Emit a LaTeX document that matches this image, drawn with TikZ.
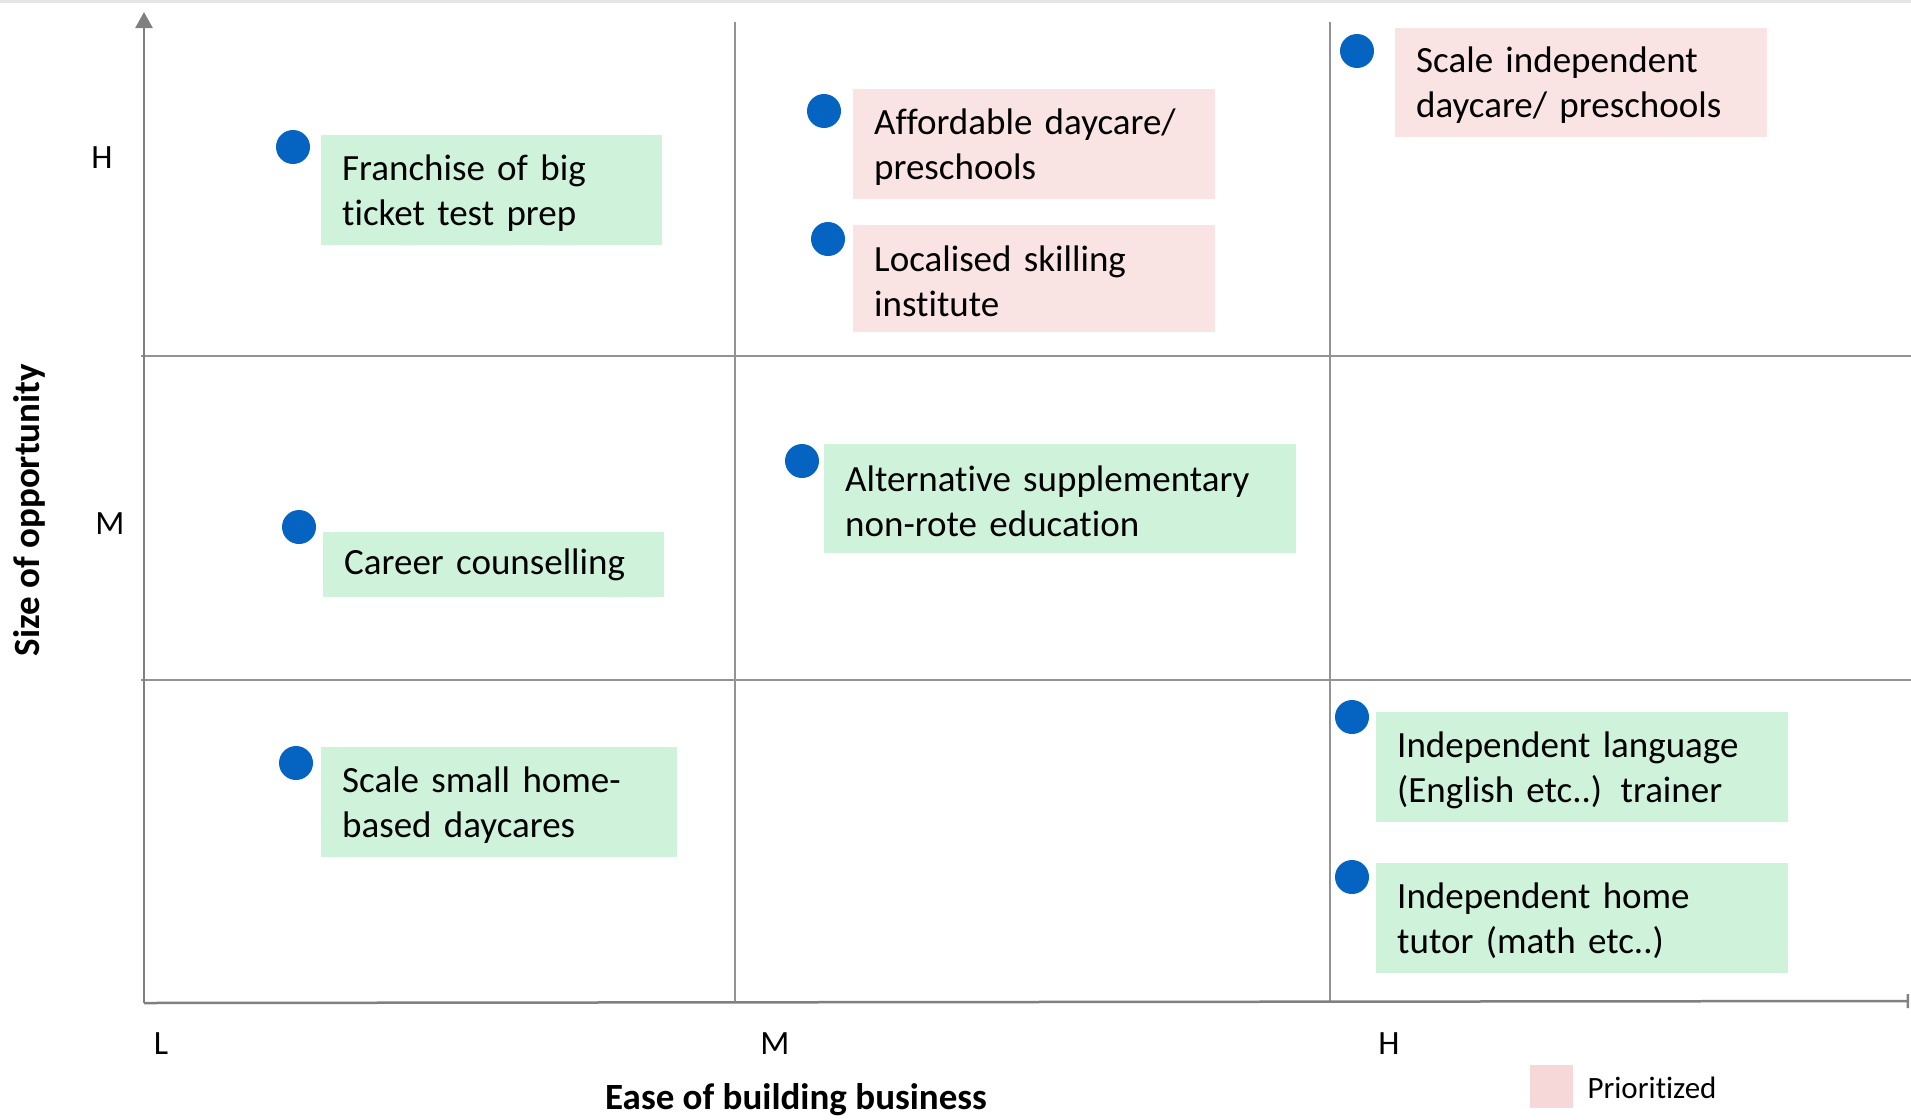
\documentclass[tikz,border=0pt]{standalone}
\usepackage{fontspec}
\setmainfont{Carlito}[Ligatures=NoCommon]
\usepackage{tikz}
\usetikzlibrary{arrows.meta, positioning}
\definecolor{boxgreen}{HTML}{CEF2DA}
\definecolor{boxpink}{HTML}{F9E3E3}
\definecolor{legpink}{HTML}{F7D8D8}
\definecolor{dotblue}{HTML}{0563C1}
\definecolor{axisgray}{HTML}{808080}
\newcommand\ideafont{\fontsize{37}{45}\selectfont\spaceskip=0.2em plus 0.05em\relax}

\begin{document}
\begin{tikzpicture}[x=1pt, y=-1pt,% styles used in image code
          > = {Triangle[length=16pt, width=17pt]},
 dot/.style = {circle, fill=dotblue,
               minimum size=34pt, inner sep=0pt, outer sep=0pt,
               node contents={}},
idea/.style args = {#1/#2}{fill=#1, text width=#2, align=left,
               anchor=north west, inner xsep=21pt, inner ysep=0pt,
               minimum height=110pt, font=\ideafont},
tick/.style = {font=\fontsize{34}{34}\selectfont},
title/.style = {font=\fontsize{37}{37}\selectfont\bfseries},
grid line/.style = {draw=axisgray!85, line width=2pt}
                    ]
    \useasboundingbox (0,0) rectangle (1911,1119);
    \draw[gray!20, line width=3pt] (0,1.5) -- (1911,1.5);

    % coordinate axis
    \coordinate (O)    at (144,1003);
    \coordinate (ytop) at (144,12);
    \coordinate (xend) at (1909,1001);

    % quadrant lines
    \foreach \x in {735,1330}
        \draw[grid line] (\x,22) -- (\x,1003);
    \foreach \y in {356,680}
        \draw[grid line] (141,\y) -- (1911,\y);

    \draw[axisgray, line width=2.5pt, ->] (O) -- (ytop);
    \draw[axisgray, line width=2.5pt, -{Bar[width=14pt]}] (O) -- (xend);

    % axis labels
    \node[tick] (yH) at (102,158)  {H};
    \node[tick] (yM) at (110,524)  {M};
    \node[tick] (xL) at (161,1044) {L};
    \node[tick] (xM) at (775,1044) {M};
    \node[tick] (xH) at (1389,1044) {H};
    \node[title, rotate=90] (ytitle) at (29,510) {Size of opportunity};
    \node[title] (xtitle) at (796,1100) {Ease of building business};

    % opportunities
    \node[idea=boxgreen/299pt] (franchise) at (321,135)
        {\strut Franchise of big\\ticket test prep};
    \node (franchise dot) at (293,147) [dot];

    \node[idea=boxpink/320pt] (afford) at (853,89)
        {\strut Affordable daycare/\\preschools};
    \node (afford dot) at (824,111) [dot];

    \node[idea=boxpink/320pt, minimum height=107pt] (skill) at (853,225)
        {\strut Localised skilling\\institute};
    \node (skill dot) at (828,239) [dot];

    \node[idea=boxpink/330pt, minimum height=109pt] (scale) at (1395,28)
        {\strut Scale independent\\daycare/ preschools};
    \node (scale dot) at (1357,51) [dot];

    \node[idea=boxgreen/299pt, minimum height=65pt] (career) at (323,532)
        {Career counselling};
    \node (career dot) at (299,527) [dot];

    \node[idea=boxgreen/430pt, minimum height=109pt] (alt) at (824,444)
        {\strut Alternative supplementary\\non-rote education};
    \node (alt dot) at (802,461) [dot];

    \node[idea=boxgreen/314pt] (small) at (321,747)
        {\strut Scale small home-\\based daycares};
    \node (small dot) at (296,763) [dot];

    \node[idea=boxgreen/370pt] (lang) at (1376,712)
        {\strut Independent language\\(English etc..) trainer};
    \node (lang dot) at (1352,717) [dot];

    \node[idea=boxgreen/370pt] (tutor) at (1376,863)
        {\strut Independent home\\tutor (math etc..)};
    \node (tutor dot) at (1352,877) [dot];

    % legend
    \fill[legpink] (1530,1065) rectangle (1573,1108);
    \node[anchor=west, font=\fontsize{31}{31}\selectfont] (legend) at (1584,1088) {Prioritized};
\end{tikzpicture}
\end{document}
